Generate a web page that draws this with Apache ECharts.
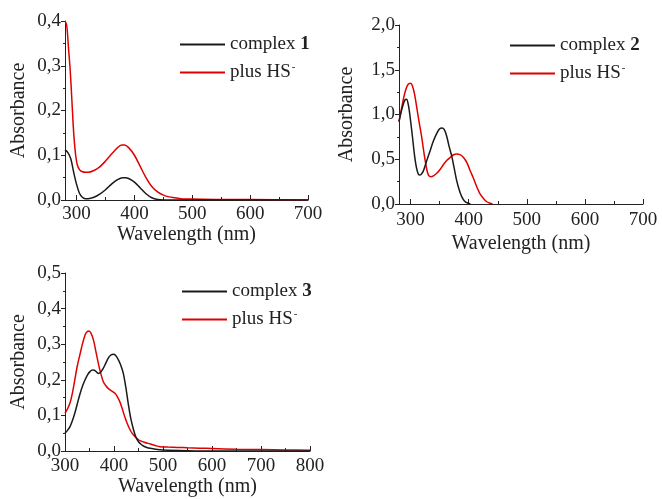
<!DOCTYPE html>
<html><head><meta charset="utf-8">
<script src="https://cdn.jsdelivr.net/npm/echarts@6/dist/echarts.min.js"></script>
<style>html,body{margin:0;padding:0;background:#fff}#c{width:662px;height:499px}</style>
</head><body><div id="c"></div>
<script>
// ---- Data (wavelength nm, absorbance) ----
const wl1Complex = [280,285,290,295,300,305,310,315,320,330,340,350,360,370,380,385,390,400,410,420,430,440,450,500,600,700];
const abs1Complex = [0.112,0.106,0.092,0.062,0.035,0.015,0.006,0.003,0.003,0.006,0.013,0.023,0.035,0.045,0.05,0.05,0.048,0.04,0.027,0.014,0.005,0.001,0,0,0,0];
const wl1HS = [280,283,286,289,292,295,298,301,305,310,316,320,330,340,350,360,370,378,383,390,400,410,420,430,440,450,460,470,480,500,550,600,700];
const abs1HS = [0.40,0.39,0.34,0.29,0.22,0.15,0.105,0.08,0.068,0.063,0.062,0.062,0.066,0.074,0.087,0.102,0.116,0.123,0.123,0.117,0.1,0.075,0.05,0.03,0.018,0.011,0.007,0.005,0.003,0.002,0.001,0.001,0];

const wl2Complex = [280,285,290,293,296,299,303,307,311,315,318,322,327,333,339,345,350,354,358,362,366,371,375,379,384,388,393,399,403];
const abs2Complex = [0.92,1.06,1.16,1.17,1.11,0.98,0.76,0.53,0.38,0.324,0.33,0.37,0.47,0.585,0.70,0.79,0.84,0.848,0.83,0.76,0.65,0.53,0.40,0.27,0.15,0.082,0.03,0.008,0];
const wl2HS = [280,285,290,295,300,303,307,311,315,319,323,328,331,335,340,345,350,356,362,368,374,379,385,391,397,402,408,414,419,425,431,437,441];
const abs2HS = [0.92,1.09,1.24,1.33,1.35,1.32,1.22,1.06,0.90,0.75,0.57,0.38,0.32,0.305,0.318,0.343,0.38,0.436,0.485,0.52,0.55,0.56,0.552,0.52,0.46,0.38,0.29,0.19,0.12,0.064,0.025,0.008,0];

const wl3Complex = [300,305,310,315,320,325,331,336,341,346,351,355,358,362,368,373,378,383,388,393,399,403,409,414,419,424,429,434,440,445,450,455,460,467,474,485,500,550,600,800];
const abs3Complex = [0.05,0.058,0.068,0.085,0.106,0.132,0.162,0.183,0.2,0.214,0.223,0.227,0.2275,0.225,0.218,0.222,0.232,0.246,0.26,0.269,0.272,0.269,0.256,0.24,0.218,0.18,0.134,0.093,0.059,0.038,0.026,0.019,0.014,0.01,0.0076,0.005,0.003,0.001,0,0];
const wl3HS = [300,305,310,315,320,325,331,336,341,345,349,353,358,363,368,373,378,383,388,395,402,407,412,417,422,427,433,438,443,448,453,463,474,485,494,510,530,550,575,600,650,700,750,800];
const abs3HS = [0.106,0.118,0.134,0.162,0.2,0.238,0.274,0.303,0.326,0.335,0.337,0.331,0.312,0.28,0.246,0.218,0.195,0.184,0.176,0.169,0.162,0.152,0.138,0.118,0.096,0.077,0.059,0.048,0.04,0.034,0.029,0.024,0.0197,0.015,0.012,0.011,0.01,0.009,0.008,0.007,0.005,0.004,0.003,0.002];

const xTicks12 = [300,400,500,600,700];
const xMinor12 = [350,450,550,650];
const legendNames = ['complex', 'plus HS'];
const complexNums = ['1','2','3'];

// ---- Chart ----
const FONT = '"Liberation Serif", "DejaVu Serif", serif';
const BLACK = '#1a1a1a', RED = '#e00000';
const pair = (xs, ys) => xs.map((x, i) => [x, ys[i]]);
const comma = v => v.toFixed(1).replace('.', ',');

const grids = [
  {left: 65, top: 21, width: 243, height: 179},
  {left: 399, top: 25, width: 244, height: 179},
  {left: 65, top: 273, width: 245, height: 178}
];
const xRanges = [[280,700],[280,700],[300,800]];
const yRanges = [[0,0.4,0.1],[0,2.0,0.5],[0,0.5,0.1]];
const nameGapsX = [21, 30, 26];
const nameGapsY = [36, 42, 36];
const labelMarginX = [5, 7, 6];

const axisLine = {show: true, lineStyle: {color: '#222', width: 1}};
const xAxis = [], yAxis = [];
for (let g = 0; g < 3; g++) {
  const [mn, mx] = xRanges[g];
  const base = {
    type: 'value', gridIndex: g, min: mn, max: mx, position: 'bottom',
    splitLine: {show: false}, axisLine: axisLine
  };
  if (g < 2) {
    xAxis.push(Object.assign({}, base, {
      name: 'Wavelength (nm)', nameLocation: 'middle', nameGap: nameGapsX[g],
      nameTextStyle: {fontFamily: FONT, fontSize: 20, color: '#222'},
      axisTick: {show: true, inside: true, length: 5, customValues: xTicks12, lineStyle: {color: '#222'}},
      axisLabel: {show: true, customValues: xTicks12, fontFamily: FONT, fontSize: 19, color: '#222', margin: labelMarginX[g]}
    }));
  } else {
    xAxis.push(Object.assign({}, base, {
      interval: 100,
      name: 'Wavelength (nm)', nameLocation: 'middle', nameGap: nameGapsX[g],
      nameTextStyle: {fontFamily: FONT, fontSize: 20, color: '#222'},
      axisTick: {show: true, inside: true, length: 5, lineStyle: {color: '#222'}},
      minorTick: {show: true, splitNumber: 2, length: 3, lineStyle: {color: '#222'}},
      axisLabel: {show: true, fontFamily: FONT, fontSize: 19, color: '#222', margin: labelMarginX[g]}
    }));
  }
  const [ymn, ymx, yint] = yRanges[g];
  yAxis.push({
    type: 'value', gridIndex: g, min: ymn, max: ymx, interval: yint,
    name: 'Absorbance', nameLocation: 'middle', nameGap: nameGapsY[g],
    nameTextStyle: {fontFamily: FONT, fontSize: 20, color: '#222'},
    splitLine: {show: false}, axisLine: axisLine,
    axisTick: {show: true, inside: false, length: 4, lineStyle: {color: '#222'}},
    minorTick: {show: true, splitNumber: 2, length: 2, lineStyle: {color: '#222'}},
    axisLabel: {fontFamily: FONT, fontSize: 19, color: '#222', margin: 4, formatter: comma}
  });
}
// minor-tick overlay axes for charts 1 & 2
for (let g = 0; g < 2; g++) {
  xAxis.push({
    type: 'value', gridIndex: g, min: xRanges[g][0], max: xRanges[g][1], position: 'bottom', offset: 0,
    axisLine: {show: false}, splitLine: {show: false},
    axisTick: {show: true, inside: true, length: 3, customValues: xMinor12, lineStyle: {color: '#222'}},
    axisLabel: {show: false}
  });
}

const sets = [[wl1Complex, abs1Complex, wl1HS, abs1HS],[wl2Complex, abs2Complex, wl2HS, abs2HS],[wl3Complex, abs3Complex, wl3HS, abs3HS]];
const series = [];
sets.forEach((s, g) => {
  series.push({name: 'c' + g, type: 'line', xAxisIndex: g, yAxisIndex: g, data: pair(s[0], s[1]), smooth: 0.3, showSymbol: false, lineStyle: {color: BLACK, width: 1.5}, itemStyle: {color: BLACK}, z: 3});
  series.push({name: 'h' + g, type: 'line', xAxisIndex: g, yAxisIndex: g, data: pair(s[2], s[3]), smooth: 0.3, showSymbol: false, lineStyle: {color: RED, width: 1.5}, itemStyle: {color: RED}, z: 2});
});

const legendPos = [{left: 175, top: 30}, {left: 505, top: 31}, {left: 177, top: 277}];
const legend = legendPos.map((p, g) => ({
  left: p.left, top: p.top, orient: 'vertical', itemGap: 8,
  itemWidth: 45, itemHeight: 2, icon: 'rect', selectedMode: false,
  data: [{name: 'c' + g, itemStyle: {color: BLACK}}, {name: 'h' + g, itemStyle: {color: RED}}],
  formatter: n => n[0] === 'c' ? '{t|' + legendNames[0] + ' }{b|' + complexNums[g] + '}' : '{t|' + legendNames[1] + '}{s|-}',
  textStyle: {
    fontFamily: FONT, fontSize: 19, color: '#222', padding: [0,0,0,0],
    rich: {
      t: {fontFamily: FONT, fontSize: 19, color: '#222'},
      b: {fontFamily: FONT, fontSize: 19, fontWeight: 'bold', color: '#222'},
      s: {fontFamily: FONT, fontSize: 11, color: '#222', verticalAlign: 'top', padding: [0,0,10,1]}
    }
  }
}));

const chart = echarts.init(document.getElementById('c'), null, {renderer: 'canvas'});
chart.setOption({
  animation: false, backgroundColor: '#fff',
  grid: grids, xAxis: xAxis, yAxis: yAxis, legend: legend, series: series
});
</script></body></html>
